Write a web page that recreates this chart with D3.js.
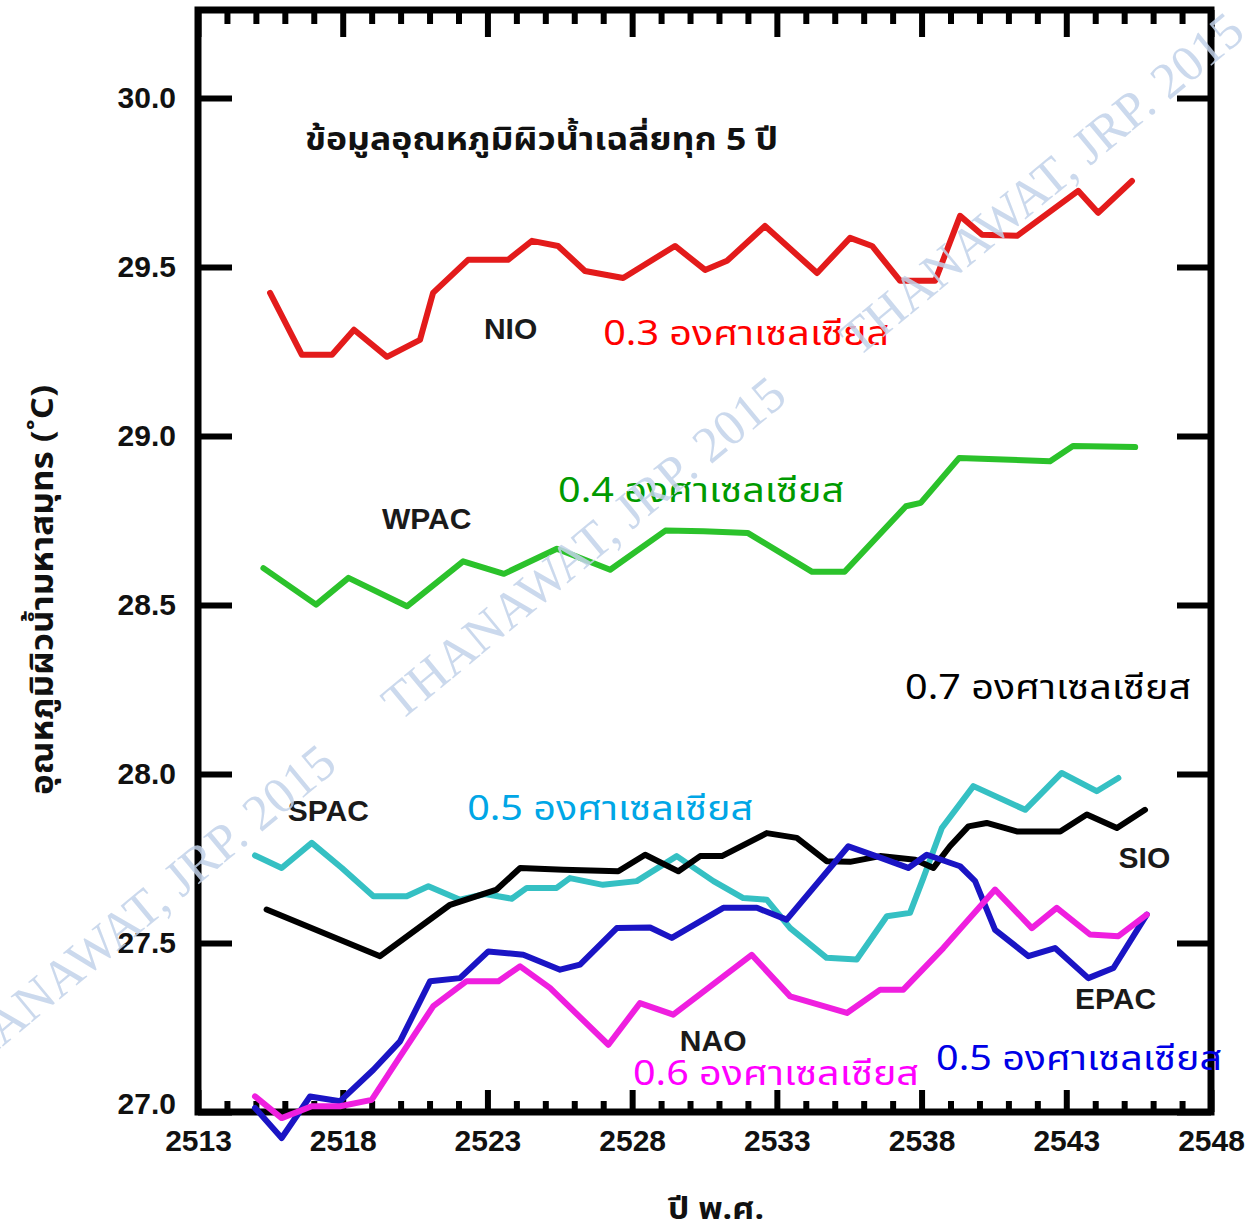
<!DOCTYPE html>
<html lang="th">
<head>
<meta charset="UTF-8">
<title>อุณหภูมิผิวน้ำมหาสมุทร</title>
<script src="https://d3js.org/d3.v7.min.js"></script>
<style>
    body { margin: 0; background: #fff; }
    svg { display: block; }
    .tick text { font-family: "Liberation Sans", Arial, sans-serif; font-weight: bold; font-size: 30px; fill: #111; }
    .thai { font-family: "Noto Sans Thai", "Loma", "Garuda", "Norasi", "Tlwg Typo", sans-serif; }
</style>
</head>
<body>
<div id="chart"></div>
<script>
    // [ปี พ.ศ., °C]
    const NIO = [[2515.49,29.423],[2516.59,29.240],[2517.63,29.240],[2518.39,29.314],[2519.53,29.234],
        [2520.67,29.284],[2521.12,29.423],[2522.33,29.521],[2523.71,29.521],[2524.54,29.577],
        [2525.44,29.562],[2526.37,29.488],[2527.69,29.467],[2529.48,29.562],[2530.52,29.491],
        [2531.28,29.518],[2532.59,29.621],[2534.39,29.482],[2535.53,29.586],[2536.29,29.562],
        [2537.26,29.459],[2538.47,29.459],[2539.33,29.651],[2540.09,29.595],[2541.30,29.592],
        [2543.41,29.725],[2544.10,29.660],[2545.27,29.754]];

    const WPAC = [[2515.26,28.609],[2517.08,28.501],[2518.20,28.580],[2520.22,28.496],[2522.16,28.629],
        [2523.57,28.592],[2525.40,28.666],[2527.24,28.604],[2529.15,28.720],[2530.47,28.718],
        [2531.99,28.713],[2534.22,28.598],[2535.34,28.598],[2537.46,28.792],[2537.97,28.802],
        [2539.30,28.935],[2540.82,28.930],[2542.44,28.925],[2543.23,28.970],[2545.38,28.967]];

    const SPAC = [[2514.97,27.759],[2515.89,27.722],[2516.93,27.796],[2517.97,27.722],[2519.06,27.638],
        [2520.21,27.638],[2520.96,27.668],[2522.05,27.628],[2522.92,27.645],[2523.84,27.631],
        [2524.36,27.663],[2525.39,27.663],[2525.85,27.692],[2526.99,27.672],[2528.16,27.683],
        [2529.54,27.757],[2530.81,27.683],[2531.84,27.633],[2532.65,27.628],[2533.46,27.544],
        [2534.72,27.456],[2535.76,27.451],[2536.80,27.579],[2537.60,27.589],[2538.06,27.692],
        [2538.70,27.840],[2539.79,27.964],[2541.58,27.894],[2542.84,28.003],[2544.05,27.949],
        [2544.80,27.988]];

    const SIO = [[2515.37,27.599],[2519.29,27.461],[2521.71,27.613],[2523.32,27.658],[2524.13,27.722],
        [2525.62,27.717],[2527.52,27.712],[2528.45,27.761],[2529.60,27.712],[2530.35,27.757],
        [2531.10,27.757],[2532.65,27.825],[2533.69,27.811],[2534.72,27.742],[2535.53,27.740],
        [2536.57,27.757],[2537.78,27.746],[2538.41,27.722],[2538.98,27.786],[2539.62,27.845],
        [2540.25,27.855],[2541.29,27.830],[2542.79,27.830],[2543.71,27.880],[2544.75,27.840],
        [2545.72,27.894]];

    const EPAC = [[2514.97,27.012],[2515.89,26.923],[2516.87,27.046],[2517.91,27.032],[2519.06,27.125],
        [2519.98,27.209],[2521.02,27.387],[2522.05,27.396],[2523.03,27.475],[2524.24,27.465],
        [2525.51,27.421],[2526.20,27.436],[2527.47,27.544],[2528.62,27.546],[2529.37,27.515],
        [2531.15,27.604],[2532.31,27.604],[2533.34,27.569],[2535.47,27.786],[2536.62,27.751],
        [2537.54,27.722],[2538.18,27.761],[2539.33,27.727],[2539.85,27.683],[2540.54,27.539],
        [2541.69,27.461],[2542.61,27.485],[2543.76,27.396],[2544.63,27.426],[2545.78,27.584]];

    const NAO = [[2514.97,27.046],[2515.89,26.982],[2516.93,27.017],[2517.91,27.017],[2519.00,27.036],
        [2519.87,27.150],[2521.13,27.313],[2522.28,27.387],[2523.38,27.387],[2524.13,27.431],
        [2525.16,27.367],[2527.18,27.199],[2528.27,27.322],[2529.42,27.288],[2532.13,27.465],
        [2533.46,27.342],[2535.42,27.293],[2536.57,27.362],[2537.37,27.362],[2538.75,27.485],
        [2540.54,27.658],[2541.81,27.544],[2542.67,27.604],[2543.82,27.525],[2544.80,27.520],
        [2545.78,27.584]];

    const yearTicks = d3.range(2513, 2549, 1);
    const yearLabels = [2513, 2518, 2523, 2528, 2533, 2538, 2543, 2548];
    const tempTicks = [27.0, 27.5, 28.0, 28.5, 29.0, 29.5, 30.0];

    const series = [
        { name: "NIO", data: NIO, color: "#e31b1b" },
        { name: "WPAC", data: WPAC, color: "#2bc22b" },
        { name: "SPAC", data: SPAC, color: "#35c0c3" },
        { name: "SIO", data: SIO, color: "#000000" },
        { name: "EPAC", data: EPAC, color: "#1a14c4" },
        { name: "NAO", data: NAO, color: "#ef1fdf" }
    ];

    // region name labels: [text, year, temp]
    const nameLabels = [["NIO", 2523.8, 29.287], ["WPAC", 2520.9, 28.725], ["SPAC", 2517.5, 27.861],
        ["SIO", 2545.7, 27.722], ["EPAC", 2544.7, 27.305], ["NAO", 2530.8, 27.180]];

    // warming amount notes: [text, year, temp, color]
    const notes = [
        ["0.3 องศาเซลเซียส", 2527.0, 29.269, "#ff0000"],
        ["0.4 องศาเซลเซียส", 2525.44, 28.805, "#009a00"],
        ["0.7 องศาเซลเซียส", 2537.43, 28.222, "#000000"],
        ["0.5 องศาเซลเซียส", 2522.3, 27.864, "#00a6e6"],
        ["0.6 องศาเซลเซียส", 2528.03, 27.080, "#ff00ff"],
        ["0.5 องศาเซลเซียส", 2538.5, 27.124, "#0000e6"]
    ];

    const width = 1255, height = 1231;
    const svg = d3.select("#chart").append("svg")
        .attr("width", width)
        .attr("height", height);

    const x = d3.scaleLinear().domain([2513, 2548]).range([198, 1211]);
    const y = d3.scaleLinear().domain([27, 30.26]).range([1112, 10]);

    // axes (ticks inward, like the original)
    function styleAxis(g) {
        g.select(".domain").remove();
        g.selectAll(".tick line").attr("stroke", "#000").attr("stroke-width", 6);
    }

    const minorYears = yearTicks.filter(d => (d - 2513) % 5 !== 0);
    svg.append("g").attr("transform", `translate(0,${y(27)})`)
        .call(d3.axisBottom(x).tickValues(minorYears).tickSize(-11).tickFormat(""))
        .call(styleAxis);
    svg.append("g").attr("transform", `translate(0,${y(27)})`)
        .call(d3.axisBottom(x).tickValues(yearLabels).tickSize(-22).tickPadding(18).tickFormat(d3.format("d")))
        .call(styleAxis);
    svg.append("g").attr("transform", `translate(0,${y.range()[1]})`)
        .call(d3.axisTop(x).tickValues(minorYears).tickSize(-14).tickFormat(""))
        .call(styleAxis);
    svg.append("g").attr("transform", `translate(0,${y.range()[1]})`)
        .call(d3.axisTop(x).tickValues(yearLabels).tickSize(-27).tickFormat(""))
        .call(styleAxis);
    svg.append("g").attr("transform", `translate(${x(2513)},0)`)
        .call(d3.axisLeft(y).tickValues(tempTicks).tickSize(-34).tickPadding(22).tickFormat(d3.format(".1f")))
        .call(styleAxis);
    svg.append("g").attr("transform", `translate(${x(2548)},0)`)
        .call(d3.axisRight(y).tickValues(tempTicks).tickSize(-34).tickFormat(""))
        .call(styleAxis);

    // the 27.0 label sits a little above the corner in the original
    svg.selectAll(".tick text").filter(d => d === 27).attr("dy", "0.05em");

    // frame
    svg.append("rect")
        .attr("x", x(2513)).attr("y", y.range()[1])
        .attr("width", x(2548) - x(2513)).attr("height", y(27) - y.range()[1])
        .attr("fill", "none").attr("stroke", "#000").attr("stroke-width", 7);

    // series lines
    const line = d3.line().x(d => x(d[0])).y(d => y(d[1]));
    svg.append("g").selectAll("path")
        .data(series)
        .join("path")
        .attr("d", d => line(d.data))
        .attr("fill", "none")
        .attr("stroke", d => d.color)
        .attr("stroke-width", 6)
        .attr("stroke-linejoin", "round")
        .attr("stroke-linecap", "round");

    // region names
    svg.append("g").selectAll("text")
        .data(nameLabels)
        .join("text")
        .attr("x", d => x(d[1])).attr("y", d => y(d[2]))
        .attr("text-anchor", "middle")
        .attr("font-family", "'Liberation Sans', Arial, sans-serif")
        .attr("font-weight", "bold")
        .attr("font-size", 30)
        .attr("fill", "#1a1a1a")
        .text(d => d[0]);

    // warming notes
    svg.append("g").selectAll("text")
        .data(notes)
        .join("text")
        .attr("class", "thai")
        .attr("x", d => x(d[1])).attr("y", d => y(d[2]))
        .attr("font-size", 34)
        .attr("textLength", 286)
        .attr("lengthAdjust", "spacingAndGlyphs")
        .attr("fill", d => d[3])
        .text(d => d[0]);

    // title + axis titles
    svg.append("text")
        .attr("class", "thai")
        .attr("x", 305).attr("y", 150)
        .attr("font-size", 31).attr("font-weight", "bold").attr("fill", "#111")
        .attr("textLength", 473).attr("lengthAdjust", "spacingAndGlyphs")
        .text("ข้อมูลอุณหภูมิผิวน้ำเฉลี่ยทุก 5 ปี");

    svg.append("text")
        .attr("class", "thai")
        .attr("transform", "translate(53,795) rotate(-90)")
        .attr("font-size", 31).attr("font-weight", "bold").attr("fill", "#111")
        .attr("textLength", 410).attr("lengthAdjust", "spacingAndGlyphs")
        .text("อุณหภูมิผิวน้ำมหาสมุทร (˚C)");

    svg.append("text")
        .attr("class", "thai")
        .attr("x", 668).attr("y", 1219)
        .attr("font-size", 30).attr("font-weight", "bold").attr("fill", "#111")
        .attr("textLength", 96).attr("lengthAdjust", "spacingAndGlyphs")
        .text("ปี พ.ศ.");

    // watermark
    const marks = [[-50, 1090], [400, 722], [858, 358]];
    svg.append("g").selectAll("text")
        .data(marks)
        .join("text")
        .attr("transform", d => `translate(${d[0]},${d[1]}) rotate(-39.6)`)
        .attr("font-family", "'Liberation Serif', 'DejaVu Serif', serif")
        .attr("font-size", 51)
        .attr("fill", "#c3d3ea")
        .attr("opacity", 0.85)
        .text("THANAWAT, JRP. 2015");
</script>
</body>
</html>
